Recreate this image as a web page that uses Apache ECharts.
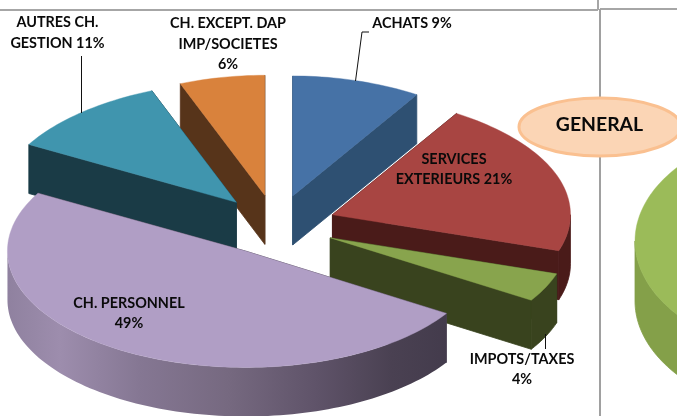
<!DOCTYPE html>
<html><head><meta charset="utf-8">
<style>html,body{margin:0;padding:0;background:#fff}#c{width:677px;height:416px}</style>
<script src="https://cdn.jsdelivr.net/npm/echarts@6/dist/echarts.min.js"></script>
</head><body><div id="c"></div>
<script>
const categories = ['ACHATS','SERVICES EXTERIEURS','IMPOTS/TAXES','CH. PERSONNEL','AUTRES CH. GESTION','CH. EXCEPT. DAP IMP/SOCIETES'];
const values = [9,21,4,49,11,6];
const sliceLabels = ['ACHATS 9%','SERVICES\nEXTERIEURS 21%','IMPOTS/TAXES\n4%','CH. PERSONNEL\n49%','AUTRES CH.\nGESTION 11%','CH. EXCEPT. DAP\nIMP/SOCIETES\n6%'];
const labelAnchors = [[412,23],[454,169.5],[522,369.5],[129,313.5],[57.5,33],[228,44]];
const topColors = ['#4672A6','#A84542','#88A44D','#B09EC5','#4095AE','#D9823C'];
const wallColors = ['#2E5072','#4A1B19','#39431E','#4A4152','#1A3B46','#57341A'];
const paintOrder = [0,5,4,1,2,3];
const neighbourValue = [100];

const CX=276, CY=225, EXPLODE=60, RX=238, RY=120, DEPTH=49;
const total = values.reduce((a,b)=>a+b,0);
const rad = d=>d*Math.PI/180;
function pt(c,rx,ry,a,dz,persp){
  const co=Math.cos(a);
  const fx=persp&&co>0?1-0.045*co*co*co:1, fy=persp&&co<0?0.97:1;
  return [c[0]+rx*fx*Math.sin(a), c[1]-ry*fy*co+(dz||0)];
}
function arc(c,rx,ry,a0,a1,dz,persp){const n=Math.max(2,Math.ceil(Math.abs(a1-a0)/rad(1.5)));const o=[];
  for(let i=0;i<=n;i++)o.push(pt(c,rx,ry,a0+(a1-a0)*i/n,dz,persp));return o;}
function poly(points,fill,z2,lw){return {type:'polygon',shape:{points},style:{fill,stroke:typeof fill==='string'?fill:'none',lineWidth:lw},z2};}
function solid(c,rx,ry,a0,a1,depth,top,wall,z,rimFill,persp){
  const kids=[];
  const A=pt(c,rx,ry,a0,0,persp),B=pt(c,rx,ry,a1,0,persp);
  const quad=(P,Q)=>[P,Q,[Q[0],Q[1]+depth],[P[0],P[1]+depth]];
  if(a1-a0<rad(359)){
    kids.push(poly(quad(c,A),wall,z,0.8));
    kids.push(poly(quad(c,B),wall,z,0.8));
  }
  const s=Math.max(a0,rad(90)),e=Math.min(a1,rad(270));
  if(e>s){
    const up=arc(c,rx,ry,s,e,0,persp),down=arc(c,rx,ry,e,s,depth,persp);
    kids.push(poly(up.concat(down),rimFill||wall,z+1,0.8));
  }
  const face=a1-a0<rad(359)?[c].concat(arc(c,rx,ry,a0,a1,0,persp)):arc(c,rx,ry,a0,a1,0,persp);
  kids.push(poly(face,top,z+2,0.4));
  return {type:'group',children:kids};
}
const purpleRim={type:'linear',global:true,x:7,y:0,x2:449,y2:0,colorStops:[
  {offset:0,color:'#8F819F'},{offset:0.12,color:'#9D8DAD'},{offset:0.3,color:'#857793'},
  {offset:0.5,color:'#766980'},{offset:0.7,color:'#5F5369'},{offset:0.87,color:'#4A4152'},{offset:1,color:'#433B4C'}]};

const chart=echarts.init(document.getElementById('c'),null,{renderer:'canvas'});
const text=(s,x,y,size)=>({type:'text',x,y,z:50,style:{text:s,font:'bold '+size+'px Lato, sans-serif',fill:'#0a0a0a',align:'center',verticalAlign:'middle',lineHeight:20.7}});
const seg=(pts,color,w)=>({type:'polyline',z:40,shape:{points:pts},style:{stroke:color,fill:null,lineWidth:w}});
chart.setOption({
  animation:false,
  backgroundColor:'#ffffff',
  series:[
    {type:'custom',coordinateSystem:'none',silent:true,z:2,data:values.map((v,i)=>({name:categories[i],value:v})),
     renderItem(params,api){
      const i=params.dataIndex;let sum=0;for(let k=0;k<i;k++)sum+=values[k];
      const a0=rad(sum/total*360),a1=rad((sum+api.value(0))/total*360),m=(a0+a1)/2;
      const c=[CX+EXPLODE*Math.sin(m),CY-EXPLODE*RY/RX*Math.cos(m)];
      return solid(c,RX,RY,a0,a1,DEPTH,topColors[i],wallColors[i],paintOrder.indexOf(i)*5,i===3?purpleRim:null,true);
     }},
    {type:'custom',coordinateSystem:'none',silent:true,z:1,data:neighbourValue,
     renderItem(params,api){
      return solid([835,241],200,120,0,rad(api.value(0)*3.6),60,'#9BBB59','#84A049',0,null,false);
     }}
  ],
  graphic:[
    seg([[0,10],[598,10]],'#A6A6A6',2),
    seg([[598,0],[598,10]],'#A6A6A6',2),
    seg([[600,9],[677,9]],'#A6A6A6',2),
    seg([[600,9],[600,416]],'#A0A0A0',2),
    seg([[81.5,56],[81.5,113]],'#111',1),
    seg([[369,32],[362,32],[355.5,81]],'#111',1),
    seg([[545.5,334],[545.5,349]],'#111',1),
    {type:'ellipse',z:45,shape:{cx:600,cy:127,rx:81,ry:29},style:{fill:'#FBD5B5',stroke:'#FAC090',lineWidth:3}},
    text('GENERAL',599.5,125,19.4)
  ].concat(sliceLabels.map((s,i)=>text(s,labelAnchors[i][0],labelAnchors[i][1],14.4)))
});
</script></body></html>
